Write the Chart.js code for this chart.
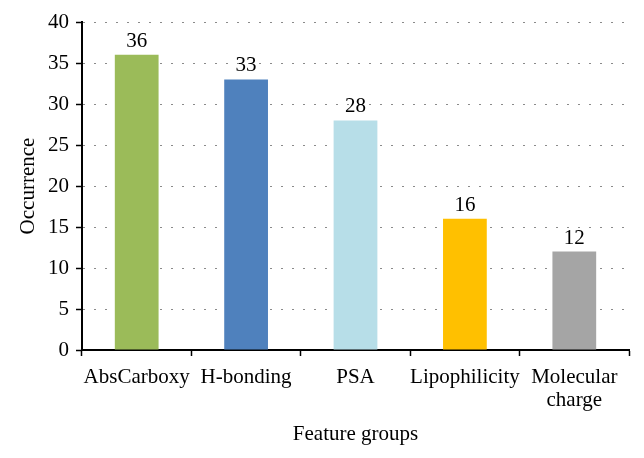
<!DOCTYPE html>
<html>
<head>
<meta charset="utf-8">
<script src="https://cdn.jsdelivr.net/npm/chart.js@4.4.0/dist/chart.umd.min.js"></script>
<style>
  html, body { margin: 0; padding: 0; background: #fff; }
  #wrap { width: 644px; height: 458px; }
</style>
</head>
<body>
<div id="wrap"><canvas id="featureChart" width="644" height="458"></canvas></div>
<script>
const categories = ["AbsCarboxy", "H-bonding", "PSA", "Lipophilicity", ["Molecular", "charge"]];
const occurrences = [36, 33, 28, 16, 12];
const barColors = ["#9BBB59", "#4F81BD", "#B7DEE8", "#FFC000", "#A5A5A5"];
const yTicks = { min: 0, max: 40, step: 5 };

const serif = "'Liberation Serif', 'DejaVu Serif', serif";
const fontSize = 21;

// draws the value above every bar
const valueLabels = {
  id: "valueLabels",
  afterDatasetsDraw(chart) {
    const ctx = chart.ctx;
    const meta = chart.getDatasetMeta(0);
    ctx.save();
    ctx.font = fontSize + "px " + serif;
    ctx.fillStyle = "#000";
    ctx.textAlign = "center";
    ctx.textBaseline = "alphabetic";
    meta.data.forEach((bar, i) => {
      ctx.fillText(String(occurrences[i]), bar.x, bar.y - 8);
    });
    ctx.restore();
  },
};

new Chart(document.getElementById("featureChart"), {
  type: "bar",
  data: {
    labels: categories,
    datasets: [
      {
        data: occurrences,
        backgroundColor: barColors,
        borderWidth: 0,
        barPercentage: 0.4,
        categoryPercentage: 1,
      },
    ],
  },
  options: {
    responsive: false,
    animation: false,
    layout: { padding: { top: 22, right: 15, left: 0, bottom: 0 } },
    plugins: {
      legend: { display: false },
      tooltip: { enabled: false },
    },
    scales: {
      x: {
        offset: true,
        grid: {
          offset: true,
          drawOnChartArea: false,
          drawTicks: true,
          tickLength: 6,
          tickColor: "#000",
          tickWidth: 1.5,
        },
        border: { display: true, color: "#000", width: 2 },
        ticks: {
          color: "#000",
          font: { family: serif, size: fontSize, lineHeight: 1.1 },
          padding: 10,
          maxRotation: 0,
          autoSkip: false,
        },
        title: {
          display: true,
          text: "Feature groups",
          color: "#000",
          font: { family: serif, size: fontSize },
          padding: { top: 0, bottom: 11 },
        },
        afterFit(scale) {
          scale.height = 108;
        },
      },
      y: {
        min: yTicks.min,
        max: yTicks.max,
        grid: {
          color: "#8a8a8a",
          lineWidth: 1,
          drawTicks: true,
          tickLength: 6,
          tickColor: "#000",
          tickWidth: 1.5,
        },
        border: { display: true, color: "#000", width: 2, dash: [2, 9] },
        ticks: {
          stepSize: yTicks.step,
          color: "#000",
          font: { family: serif, size: fontSize },
          padding: 7,
        },
        title: {
          display: true,
          text: "Occurrence",
          color: "#000",
          font: { family: serif, size: fontSize },
          padding: { top: 16, bottom: 0 },
        },
        afterFit(scale) {
          scale.width = 82;
        },
      },
    },
  },
  plugins: [valueLabels],
});
</script>
</body>
</html>
